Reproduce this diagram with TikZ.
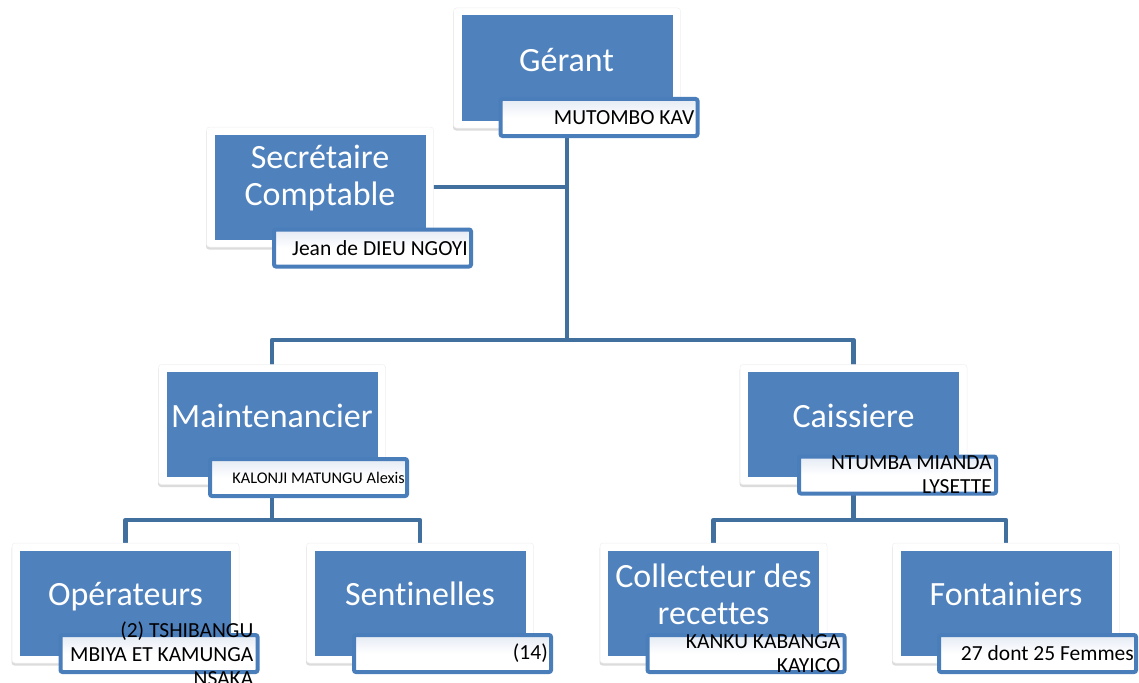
\documentclass[tikz,border=0pt]{standalone}
\usepackage{fontspec}
\setmainfont{Carlito}[Ligatures={NoCommon}]
\usetikzlibrary{shadows,backgrounds}
\definecolor{boxblue}{HTML}{4F81BD}
\definecolor{linkblue}{HTML}{41709F}
\definecolor{nameblue}{HTML}{4A7EBB}
\definecolor{nametop}{HTML}{E4EAF4}
\newcommand{\orgunit}[3]{%
  \node[orgframe] (#1) at (#2,#3) {};
  \node[innerbox] (#1b) at (#1.center) {};
}
\begin{document}
\begin{tikzpicture}[x=1pt,y=-1pt,
  orgframe/.style={rectangle, rounded corners=3pt, fill=white, draw=black!6, line width=0.5pt,
    minimum width=227pt, minimum height=120pt, inner sep=0pt,
    drop shadow={shadow xshift=-0.5pt, shadow yshift=-2.5pt, opacity=0.3, fill=black!45}},
  innerbox/.style={rectangle, fill=boxblue, minimum width=211pt, minimum height=105pt, inner sep=0pt},
  titletext/.style={text=white, font=\fontsize{34}{37}\selectfont, align=center, inner sep=0pt},
  namebox/.style={rectangle, rounded corners=2pt, draw=nameblue, line width=4pt,
    top color=nametop, bottom color=white, middle color=white,
    minimum width=197pt, minimum height=37pt, inner sep=0pt},
  nametext/.style={text=black, font=\fontsize{21.5}{24}\selectfont, align=right, inner sep=0pt, anchor=east},
  link/.style={draw=linkblue, line width=4.5pt, line join=round}]
\useasboundingbox (0,0) rectangle (1139,682);

% frames
\orgunit{g}{567}{68}
\orgunit{s}{320}{187}
\orgunit{m}{272}{424.5}
\orgunit{c}{853.5}{424.5}
\orgunit{o}{125.5}{603}
\orgunit{se}{420}{603}
\orgunit{co}{713.5}{603}
\orgunit{f}{1006}{603}

% titles
\node[titletext, anchor=base] (gt) at (566.5,72) {Gérant};
\node[titletext] (st) at (320,178) {Secrétaire\\Comptable};
\node[titletext, anchor=base] (mt) at (272,427) {Maintenancier};
\node[titletext, anchor=base] (ct) at (853.5,427) {Caissiere};
\node[titletext, anchor=base] (ot) at (125.5,605) {Opérateurs};
\node[titletext, anchor=base] (set) at (420,605) {Sentinelles};
\node[titletext] (cot) at (713.5,594) {Collecteur des\\recettes};
\node[titletext, anchor=base] (ft) at (1006,605) {Fontainiers};

% name boxes
\node[namebox] (gn) at (599,117.5) {};
\node[nametext] (gnt) at ([xshift=-5pt]gn.east) {MUTOMBO KAV};
\node[namebox] (sn) at (372.5,248) {};
\node[nametext] (snt) at ([xshift=-5pt]sn.east) {Jean de DIEU NGOYI};
\node[namebox] (mn) at (308.5,477.5) {};
\node[nametext, font=\fontsize{16.3}{19}\selectfont] (mnt) at ([xshift=-4pt]mn.east) {KALONJI MATUNGU Alexis};
\node[namebox] (cn) at (897.5,475) {};
\node[nametext] (cnt) at ([xshift=-6pt]cn.east) {NTUMBA MIANDA\\LYSETTE};
\node[namebox] (on) at (159,653.5) {};
\node[nametext] (ont) at ([xshift=-6pt]on.east) {(2) TSHIBANGU\\MBIYA ET KAMUNGA\\NSAKA};
\node[namebox] (sen) at (452.5,653.5) {};
\node[nametext] (sent) at ([xshift=-5pt]sen.east) {(14)};
\node[namebox] (con) at (746,653.5) {};
\node[nametext] (cont) at ([xshift=-6pt]con.east) {KANKU KABANGA\\KAYICO};
\node[namebox] (fn) at (1037.5,653.5) {};
\node[nametext] (fnt) at ([xshift=-4pt]fn.east) {27 dont 25 Femmes};

% connectors
\coordinate (j1) at (567,340);
\coordinate (j2) at (272,520);
\coordinate (j3) at (853.5,520);
\begin{pgfonlayer}{background}
\draw[link] (g.center) -- (j1);
\draw[link] (s.center) -- (s.center -| g.center);
\draw[link] (m.center) |- (j1) -| (c.center);
\draw[link] (m.center) -- (j2);
\draw[link] (o.center) |- (j2) -| (se.center);
\draw[link] (c.center) -- (j3);
\draw[link] (co.center) |- (j3) -| (f.center);
\end{pgfonlayer}
\end{tikzpicture}
\end{document}
